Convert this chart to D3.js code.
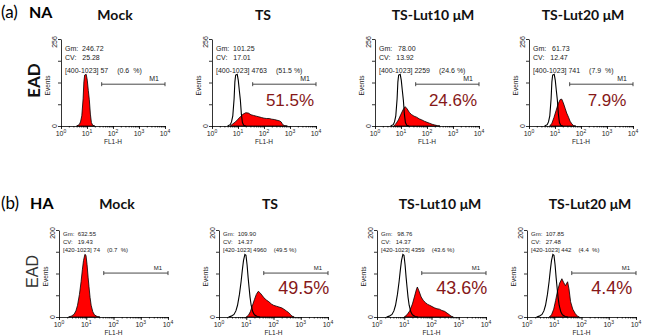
<!DOCTYPE html>
<html>
<head>
<meta charset="utf-8">
<script src="https://cdn.jsdelivr.net/npm/d3@7/dist/d3.min.js"></script>
<style>
  body { margin: 0; background: #fff; }
  svg { display: block; }
</style>
</head>
<body>
<div id="chart"></div>
<script>
// ---- data (histogram points: [log10 FL1-H, events]) ----
const conditions = ["Mock", "TS", "TS-Lut10 μM", "TS-Lut20 μM"];
const decades = [0, 1, 2, 3, 4];

// (a) NA
const mockNA = [[0.6,0],[0.7,4],[0.75,12],[0.8,30],[0.85,80],[0.88,130],[0.91,150],[0.97,152],[1.01,135],[1.05,105],[1.09,77],[1.13,35],[1.17,10],[1.22,2],[1.3,0]];
const tsNA = [[0.7,0],[0.78,5],[0.9,12],[1.0,20],[1.1,28],[1.2,35],[1.3,39],[1.4,38],[1.5,33],[1.6,31],[1.7,29],[1.8,27],[1.9,25],[2.0,23],[2.1,22],[2.2,22],[2.3,20],[2.4,19],[2.5,17],[2.6,15],[2.66,12],[2.72,4],[2.8,1],[2.9,0]];
const lut10NA = [[0.72,0],[0.8,6],[0.9,18],[1.0,35],[1.08,48],[1.16,57],[1.24,50],[1.32,40],[1.4,34],[1.5,29],[1.6,26],[1.7,21],[1.8,18],[1.9,14],[2.0,11],[2.1,8],[2.2,5],[2.3,3],[2.4,1],[2.5,0]];
const lut20NA = [[0.8,0],[0.88,8],[0.96,25],[1.04,45],[1.12,65],[1.2,78],[1.26,79],[1.32,68],[1.39,52],[1.45,38],[1.52,26],[1.58,14],[1.65,6],[1.72,1],[1.8,0]];
const statsNA = [
  ["Gm:  246.72", "CV:   25.28", "[400-1023] 57", "(0.6  %)"],
  ["Gm:  101.25", "CV:   17.01", "[400-1023] 4763", "(51.5 %)"],
  ["Gm:   78.00", "CV:   13.92", "[400-1023] 2259", "(24.6 %)"],
  ["Gm:   61.73", "CV:   12.47", "[400-1023] 741", "(7.9  %)"]
];
const pctNA = ["", "51.5%", "24.6%", "7.9%"];
const yTicksNA = [0, 64, 128, 192, 256];
const gateNA = [36.7, 10000, 123];   // M1: from, to, height

// (b) HA
const mockHA = [[0.35,0],[0.45,2],[0.55,6],[0.62,14],[0.68,27],[0.75,52],[0.81,81],[0.86,110],[0.9,130],[0.95,144],[0.99,142],[1.03,120],[1.07,90],[1.1,70],[1.14,45],[1.18,27],[1.24,12],[1.3,5],[1.4,1],[1.5,0]];
const tsHA = [[1.0,0],[1.08,4],[1.15,12],[1.22,25],[1.3,40],[1.37,52],[1.44,59],[1.5,56],[1.58,50],[1.65,44],[1.74,39],[1.83,35],[1.92,30],[2.0,27],[2.1,25],[2.2,23],[2.3,21],[2.38,18],[2.47,14],[2.56,10],[2.62,6],[2.68,2],[2.76,0]];
const lut10HA = [[1.0,0],[1.1,5],[1.2,14],[1.3,30],[1.38,48],[1.44,62],[1.48,69],[1.54,60],[1.62,46],[1.7,38],[1.78,33],[1.86,29],[1.93,27],[2.02,24],[2.11,21],[2.2,19],[2.29,18],[2.38,15],[2.48,13],[2.57,9],[2.66,5],[2.72,2],[2.8,0]];
const lut20HA = [[0.82,0],[0.9,5],[0.98,18],[1.05,38],[1.12,60],[1.2,78],[1.28,88],[1.34,80],[1.41,72],[1.49,81],[1.54,65],[1.6,35],[1.68,18],[1.77,8],[1.85,2],[1.92,0]];
const statsHA = [
  ["Gm:  632.55", "CV:   19.43", "[420-1023] 74", "(0.7  %)"],
  ["Gm:  109.90", "CV:   14.37", "[420-1023] 4960", "(49.5 %)"],
  ["Gm:   98.76", "CV:   14.37", "[420-1023] 4359", "(43.6 %)"],
  ["Gm:  107.85", "CV:   27.48", "[420-1023] 442", "(4.4  %)"]
];
const pctHA = ["", "49.5%", "43.6%", "4.4%"];
const yTicksHA = [0, 50, 100, 150, 200];
const gateHA = [43.9, 10000, 101];

// ---- layout ----
const rows = [
  { tag: "(a)", virus: "NA", eadBold: true, titleY: 20, tagY: 18, top: 39, bottom: 126, w: 104,
    lefts: [61, 212, 375, 529], titleX: [115, 263, 433, 583],
    hists: [mockNA, tsNA, lut10NA, lut20NA], ctrl: mockNA, stats: statsNA, pct: pctNA,
    yTicks: yTicksNA, gate: gateNA, fs: 7, lineH: [51, 59.5, 72.5], pctGap: 9, pctX: 1000, pctY: 58, pctFs: 17 },
  { tag: "(b)", virus: "HA", eadBold: false, titleY: 209, tagY: 209, top: 230, bottom: 317, w: 109,
    lefts: [59, 219, 377, 527], titleX: [117, 270, 440, 590],
    hists: [mockHA, tsHA, lut10HA, lut20HA], ctrl: mockHA, stats: statsHA, pct: pctHA,
    yTicks: yTicksHA, gate: gateHA, fs: 6, lineH: [236, 243.5, 252], pctGap: 7, pctX: 1300, pctY: 52, pctFs: 18 }
];

const svg = d3.select("#chart").append("svg")
  .attr("width", 650)
  .attr("height", 335)
  .style("font-family", "'Liberation Sans', Arial, sans-serif");

rows.forEach(r => {
  // row tag + virus
  const tag = svg.append("text")
    .attr("x", 1).attr("y", r.tagY)
    .attr("font-family", "Lato, sans-serif")
    .attr("font-size", 17);
  tag.append("tspan").text(r.tag);
  tag.append("tspan").attr("dx", 11).attr("font-weight", "bold").attr("font-size", 16).text(r.virus);

  // EAD
  svg.append("text")
    .attr("transform", `translate(${r.lefts[0] - 21}, ${(r.top + r.bottom) / 2 - 2}) rotate(-90)`)
    .attr("text-anchor", "middle")
    .attr("font-family", r.eadBold ? "Lato, sans-serif" : "'Liberation Sans', sans-serif")
    .attr("font-weight", r.eadBold ? "bold" : "normal")
    .attr("font-size", r.eadBold ? 17 : 16)
    .attr("fill", r.eadBold ? "#111" : "#333")
    .text("EAD");

  r.lefts.forEach((left, i) => {
    const x = d3.scaleLog().domain([1, 10000]).range([left, left + r.w]);
    const yMax = r.yTicks[r.yTicks.length - 1];
    const y = d3.scaleLinear().domain([0, yMax]).range([r.bottom, r.top]);
    const g = svg.append("g");

    // title
    svg.append("text")
      .attr("x", r.titleX[i]).attr("y", r.titleY)
      .attr("text-anchor", "middle")
      .attr("font-family", "Lato, sans-serif")
      .attr("font-weight", "bold")
      .attr("font-size", 14)
      .attr("fill", "#111")
      .text(conditions[i]);

    // histograms
    const area = d3.area()
      .x(d => x(Math.pow(10, d[0])))
      .y0(y(0))
      .y1(d => y(d[1]));
    const line = d3.line()
      .x(d => x(Math.pow(10, d[0])))
      .y(d => y(d[1]));

    g.append("path")
      .datum(r.hists[i])
      .attr("d", area)
      .attr("fill", "#ff0000")
      .attr("stroke", "#000")
      .attr("stroke-width", 0.8);

    if (i > 0) {
      g.append("path")
        .datum(r.ctrl)
        .attr("d", line)
        .attr("fill", "none")
        .attr("stroke", "#000")
        .attr("stroke-width", 1.1);
    }

    // axes
    const xMinor = g.append("g")
      .attr("transform", `translate(0, ${r.bottom})`)
      .call(d3.axisBottom(x).tickValues(x.ticks()).tickFormat("").tickSize(1.5).tickSizeOuter(0));
    xMinor.select(".domain").remove();
    g.append("g")
      .attr("transform", `translate(0, ${r.bottom})`)
      .call(d3.axisBottom(x).tickValues(decades.map(d => Math.pow(10, d))).tickFormat("").tickSize(3).tickSizeOuter(0));
    g.append("g")
      .attr("transform", `translate(${left}, 0)`)
      .call(d3.axisLeft(y).tickValues(r.yTicks).tickFormat("").tickSize(3).tickSizeOuter(0));
    g.selectAll(".domain, .tick line").attr("stroke", "#000").attr("stroke-width", 0.8);

    // x tick labels 10^n
    decades.forEach(d => {
      const t = g.append("text")
        .attr("x", x(Math.pow(10, d)))
        .attr("y", r.bottom + 10)
        .attr("text-anchor", "middle")
        .attr("font-size", 7)
        .attr("fill", "#222");
      t.append("tspan").text("10");
      t.append("tspan").attr("dy", -3).attr("font-size", 5).text(d);
    });
    g.append("text")
      .attr("x", left + r.w / 2)
      .attr("y", r.bottom + 18)
      .attr("text-anchor", "middle")
      .attr("font-size", 6.5)
      .attr("fill", "#222")
      .text("FL1-H");

    // y labels (rotated)
    [0, yMax].forEach(v => {
      g.append("text")
        .attr("transform", `translate(${left - 4}, ${y(v) + (v === 0 ? 0 : 3)}) rotate(-90)`)
        .attr("text-anchor", "middle")
        .attr("font-size", 7)
        .attr("fill", "#222")
        .text(v);
    });
    g.append("text")
      .attr("transform", `translate(${left - 11}, ${(r.top + r.bottom) / 2 + 3}) rotate(-90)`)
      .attr("text-anchor", "middle")
      .attr("font-size", 6.5)
      .attr("fill", "#222")
      .text("Events");

    // stats box
    const st = r.stats[i];
    st.slice(0, 3).forEach((s, k) => {
      const t = g.append("text")
        .attr("x", left + 4)
        .attr("y", r.lineH[k])
        .attr("font-size", r.fs)
        .attr("fill", "#222")
        .style("white-space", "pre")
        .text(s);
      if (k === 2) {
        const len = t.node().getComputedTextLength();
        g.append("text")
          .attr("x", left + 4 + len + r.pctGap)
          .attr("y", r.lineH[k])
          .attr("font-size", r.fs)
          .attr("fill", "#222")
          .style("white-space", "pre")
          .text(st[3]);
      }
    });

    // M1 gate marker
    const gy = y(r.gate[2]);
    const gx0 = x(r.gate[0]), gx1 = x(r.gate[1]);
    g.append("line").attr("x1", gx0).attr("x2", gx1).attr("y1", gy).attr("y2", gy)
      .attr("stroke", "#333").attr("stroke-width", 0.9);
    [gx0, gx1].forEach(gx => {
      g.append("line").attr("x1", gx).attr("x2", gx).attr("y1", gy - 2).attr("y2", gy + 2)
        .attr("stroke", "#333").attr("stroke-width", 0.9);
    });
    g.append("text")
      .attr("x", gx1 - 6).attr("y", gy - 3.5)
      .attr("text-anchor", "end")
      .attr("font-size", r.fs)
      .attr("fill", "#222")
      .text("M1");

    // big percentage
    if (r.pct[i]) {
      g.append("text")
        .attr("x", x(r.pctX))
        .attr("y", y(r.pctY))
        .attr("text-anchor", "middle")
        .attr("font-size", r.pctFs)
        .attr("fill", "#861818")
        .text(r.pct[i]);
    }
  });
});
</script>
</body>
</html>
